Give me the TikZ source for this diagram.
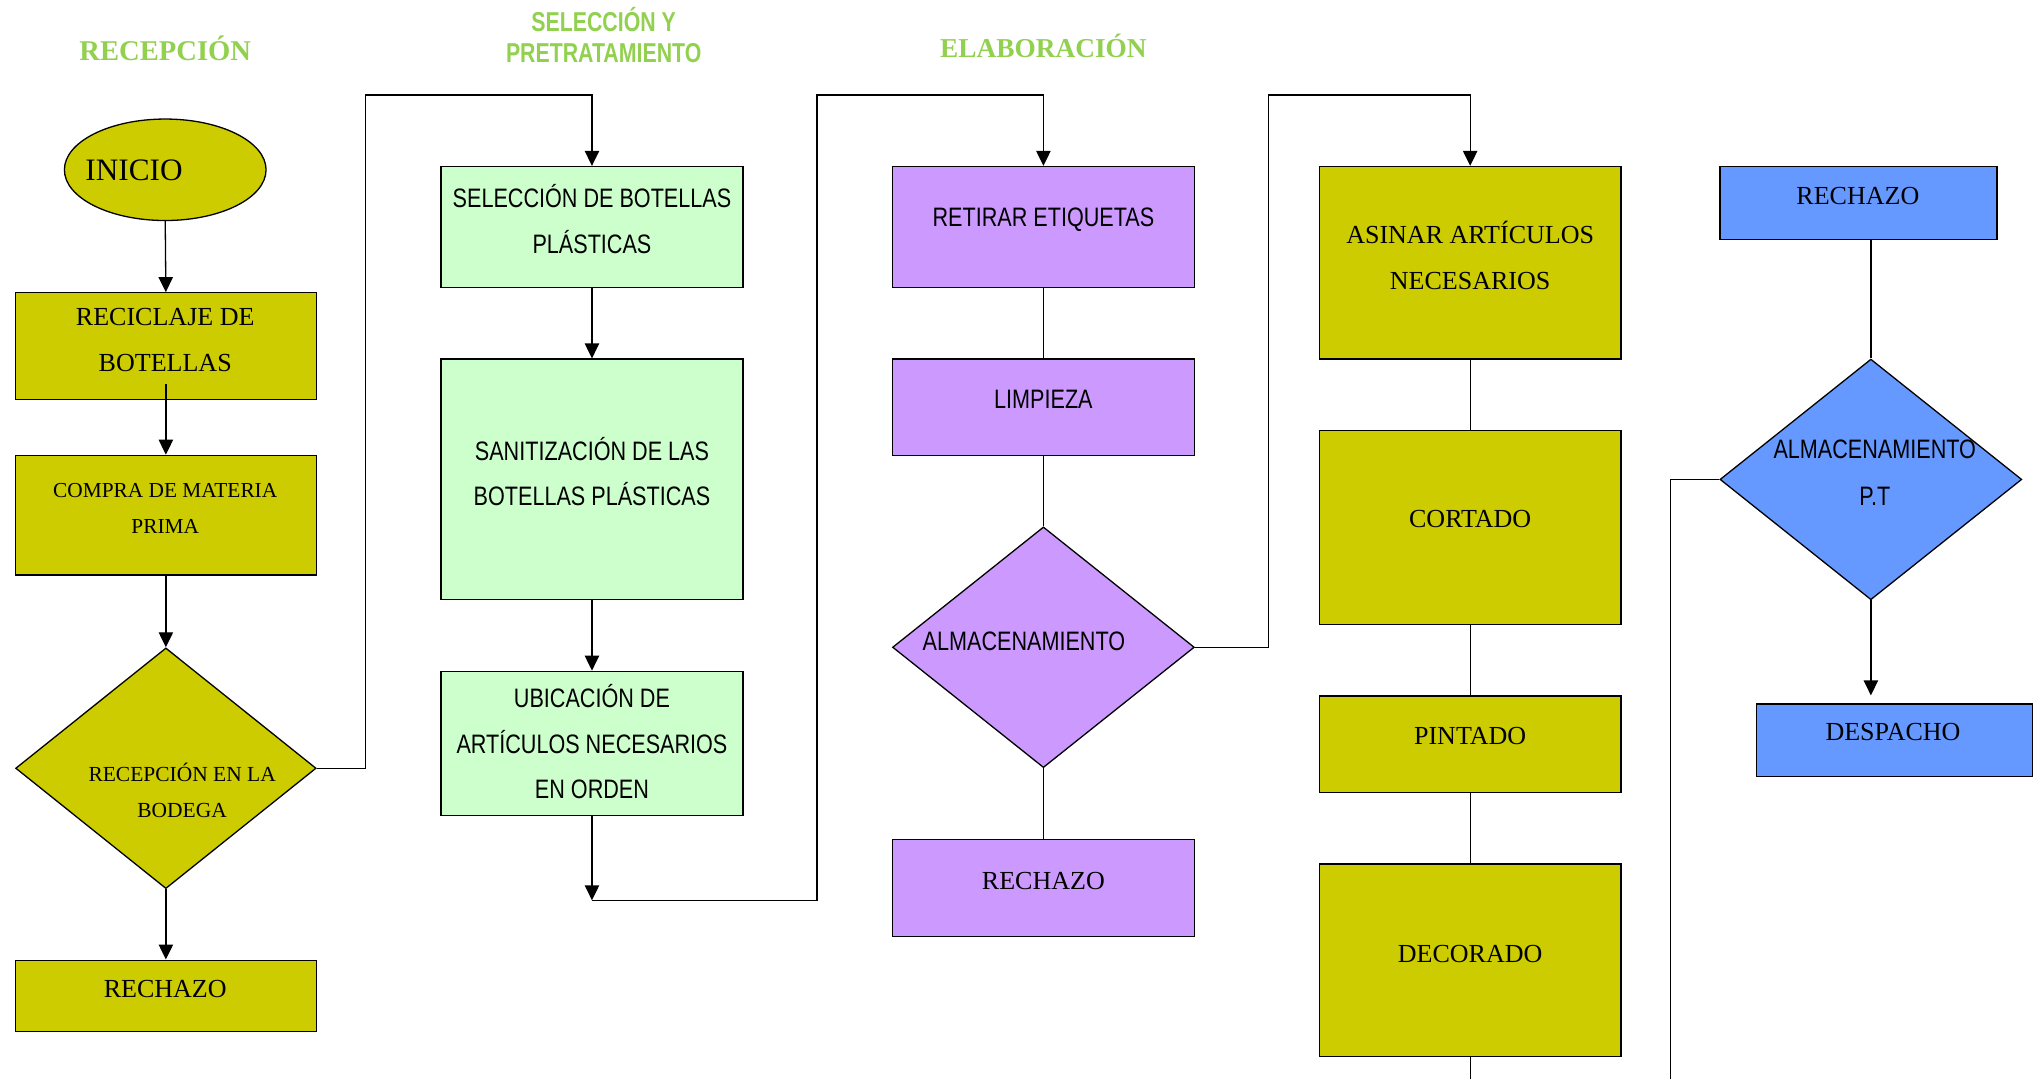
\documentclass[tikz,border=0pt]{standalone}
\usepackage{fontspec}
\setmainfont{Liberation Serif}
\newfontfamily\narrowsans[FakeStretch=0.81]{Liberation Sans}
\newfontfamily\headsansfont[FakeStretch=0.78]{Liberation Sans}
\usetikzlibrary{shapes.geometric,arrows.meta,calc}

\definecolor{oliveFill}{HTML}{CCCC00}
\definecolor{mintFill}{HTML}{CCFFCC}
\definecolor{lilacFill}{HTML}{CC99FF}
\definecolor{blueFill}{HTML}{6699FF}
\definecolor{headGreen}{HTML}{92D050}

\tikzset{
  shapebox/.style={draw=black, line width=1pt, inner sep=0pt},
  dims/.style 2 args={minimum width=#1pt, minimum height=#2pt},
  olivebox/.style={shapebox, rectangle, fill=oliveFill},
  mintbox/.style={shapebox, rectangle, fill=mintFill},
  lilacbox/.style={shapebox, rectangle, fill=lilacFill},
  bluebox/.style={shapebox, rectangle, fill=blueFill},
  serlabel/.style={inner sep=0pt, align=center, font=\fontsize{20}{35}\selectfont},
  smallser/.style={inner sep=0pt, align=center, font=\fontsize{16.4}{28}\selectfont},
  sanlabel/.style={inner sep=0pt, align=center, font=\narrowsans\fontsize{20.5}{35}\selectfont},
  headserif/.style={inner sep=0pt, text=headGreen, font=\bfseries\fontsize{22}{24}\selectfont},
  headsans/.style={inner sep=0pt, align=center, text=headGreen, font=\headsansfont\bfseries\fontsize{21}{24}\selectfont},
  conn/.style={line width=1pt, draw=black},
  arr/.style={conn, -{Triangle[length=11.5pt,width=11pt]}}
}

\begin{document}
\begin{tikzpicture}[x=1pt,y=-1pt]
\useasboundingbox (0,0) rectangle (1568,829);

% section headings
\node[headserif] (hRec) at (127,37) {RECEPCIÓN};
\node[headsans] (hSel) at (464,27) {SELECCIÓN Y\\PRETRATAMIENTO};
\node[headserif, font=\bfseries\fontsize{21}{24}\selectfont] (hEla) at (802,35) {ELABORACIÓN};

% reception column
\node[shapebox, ellipse, fill=oliveFill, dims={155}{78}] (inicio) at (127,130.5) {};
\node[serlabel, font=\fontsize{24}{24}\selectfont] (tInicio) at (103,131) {INICIO};
\node[olivebox, dims={231}{82}] (recic) at (127.5,266) {};
\node[serlabel] (tRecic) at (127,261.5) {RECICLAJE DE\\BOTELLAS};
\node[olivebox, dims={231}{92}] (compra) at (127.5,396) {};
\node[smallser] (tCompra) at (127,391) {COMPRA DE MATERIA\\PRIMA};
\node[shapebox, diamond, fill=oliveFill, dims={231}{185}] (recep) at (127.5,590.5) {};
\node[smallser, font=\fontsize{16.5}{27}\selectfont] (tRecep) at (140,607.5) {RECEPCIÓN EN LA\\BODEGA};
\node[olivebox, dims={231}{55}] (rech1) at (127.5,765.5) {};
\node[serlabel] (tRech1) at (127,760) {RECHAZO};

% selection column
\node[mintbox, dims={232}{93}] (selec) at (455,174.5) {};
\node[sanlabel] (tSelec) at (455,168.5) {SELECCIÓN DE BOTELLAS\\PLÁSTICAS};
\node[mintbox, dims={232}{185}] (sanit) at (455,368.5) {};
\node[sanlabel] (tSanit) at (455,362.5) {SANITIZACIÓN DE LAS\\BOTELLAS PLÁSTICAS};
\node[mintbox, dims={232}{111}] (ubic) at (455,571.5) {};
\node[sanlabel] (tUbic) at (455,570) {UBICACIÓN DE\\ARTÍCULOS NECESARIOS\\EN ORDEN};

% preparation column
\node[lilacbox, dims={232}{93}] (retir) at (802,174.5) {};
\node[sanlabel] (tRetir) at (802,169) {RETIRAR ETIQUETAS};
\node[lilacbox, dims={232}{74}] (limp) at (802,313) {};
\node[sanlabel] (tLimp) at (802,307) {LIMPIEZA};
\node[shapebox, diamond, fill=lilacFill, dims={232}{185}] (almac) at (802,497.5) {};
\node[sanlabel] (tAlmac) at (787,493) {ALMACENAMIENTO};
\node[lilacbox, dims={232}{75}] (rech2) at (802,682.5) {};
\node[serlabel] (tRech2) at (802,677) {RECHAZO};

% production column
\node[olivebox, dims={232}{148}] (asin) at (1130,202) {};
\node[serlabel] (tAsin) at (1130,196.5) {ASINAR ARTÍCULOS\\NECESARIOS};
\node[olivebox, dims={232}{149}] (cort) at (1130,405.5) {};
\node[serlabel] (tCort) at (1130,399) {CORTADO};
\node[olivebox, dims={232}{74}] (pint) at (1130,572) {};
\node[serlabel] (tPint) at (1130,566) {PINTADO};
\node[olivebox, dims={232}{148}] (decor) at (1130,738) {};
\node[serlabel] (tDecor) at (1130,733) {DECORADO};

% dispatch column
\node[bluebox, dims={213}{56}] (rech3) at (1428.5,156) {};
\node[serlabel] (tRech3) at (1428,151) {RECHAZO};
\node[shapebox, diamond, fill=blueFill, dims={232}{185}] (almpt) at (1438,368.5) {};
\node[sanlabel, font=\narrowsans\fontsize{20.5}{36}\selectfont] (tAlmpt) at (1441,363) {ALMACENAMIENTO\\P.T};
\node[bluebox, dims={212}{56}] (desp) at (1456,569) {};
\node[serlabel] (tDesp) at (1455,563) {DESPACHO};

% routing points of the connectors
\coordinate (j1) at (281,73);
\coordinate (j2) at (455,692);
\coordinate (j3) at (628,73);
\coordinate (j4) at (975,73);
\coordinate (j5) at (1284,829);
\coordinate (j6) at (1130,829);

% reception flow
\draw[arr] (inicio.south) -- (recic.north);
\draw[arr] ($(recic.south)+(0,-12)$) -- (compra.north);
\draw[arr] (compra.south) -- (recep.north);
\draw[arr] (recep.south) -- (rech1.north);
\draw[arr] (recep.east) -| (j1) -| (selec.north);

% selection flow
\draw[arr] (selec.south) -- (sanit.north);
\draw[arr] (sanit.south) -- (ubic.north);
\draw[arr] (ubic.south) -- (j2);
\draw[arr] (j2) -| (j3) -| (retir.north);

% preparation flow
\draw[conn] (retir.south) -- (limp.north);
\draw[conn] (limp.south) -- (almac.north);
\draw[conn] (almac.south) -- (rech2.north);
\draw[arr] (almac.east) -| (j4) -| (asin.north);

% production flow
\draw[conn] (asin.south) -- (cort.north);
\draw[conn] (cort.south) -- (pint.north);
\draw[conn] (pint.south) -- (decor.north);
\draw[conn] (decor.south) -- (j6);

% dispatch flow
\draw[conn] (almpt.north |- rech3.south) -- (almpt.north);
\draw[conn] (almpt.west) -| (j5);
\draw[arr, shorten >=6pt] (almpt.south) -- (almpt.south |- desp.north);
\end{tikzpicture}
\end{document}
